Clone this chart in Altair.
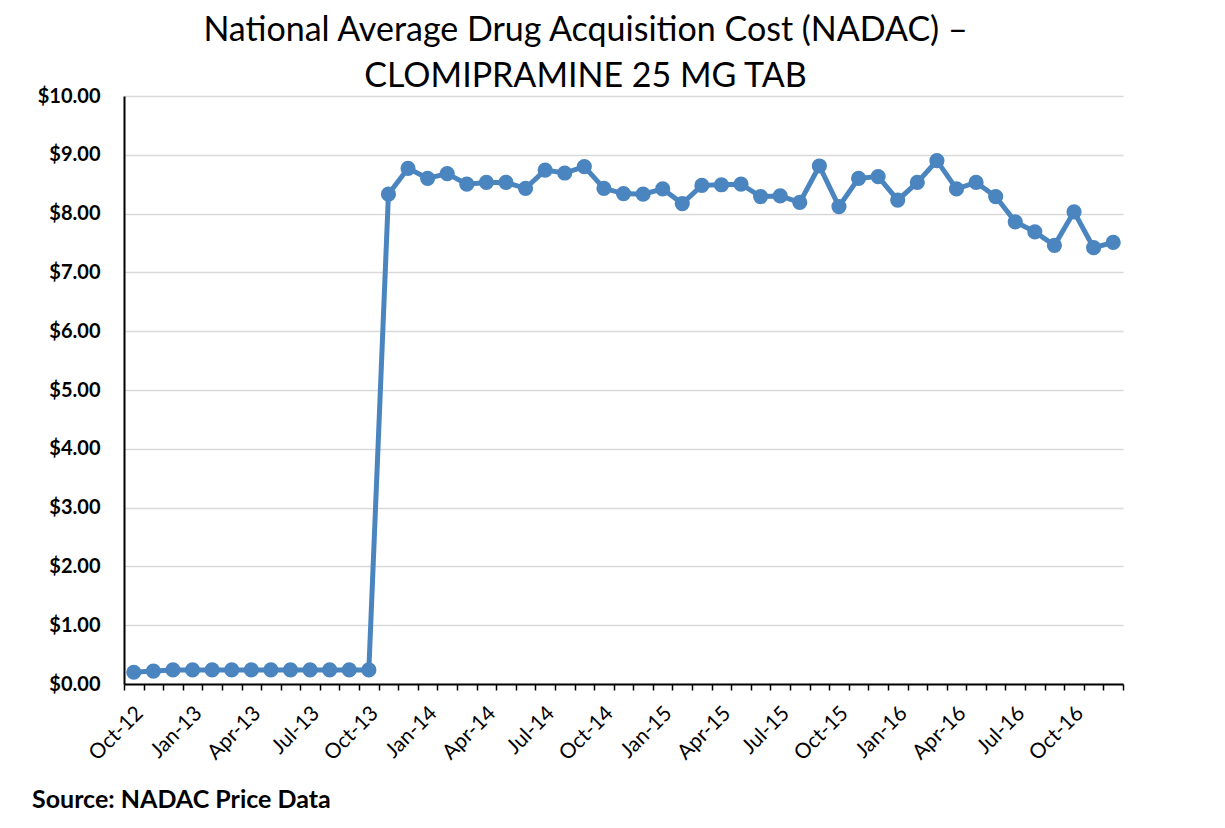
import altair as alt
import pandas as pd

# Categories: monthly periods Oct-12 .. Dec-16
months = ["Oct-12", "Nov-12", "Dec-12",
          "Jan-13", "Feb-13", "Mar-13", "Apr-13", "May-13", "Jun-13",
          "Jul-13", "Aug-13", "Sep-13", "Oct-13", "Nov-13", "Dec-13",
          "Jan-14", "Feb-14", "Mar-14", "Apr-14", "May-14", "Jun-14",
          "Jul-14", "Aug-14", "Sep-14", "Oct-14", "Nov-14", "Dec-14",
          "Jan-15", "Feb-15", "Mar-15", "Apr-15", "May-15", "Jun-15",
          "Jul-15", "Aug-15", "Sep-15", "Oct-15", "Nov-15", "Dec-15",
          "Jan-16", "Feb-16", "Mar-16", "Apr-16", "May-16", "Jun-16",
          "Jul-16", "Aug-16", "Sep-16", "Oct-16", "Nov-16", "Dec-16"]

# NADAC price per unit ($)
prices = [0.20, 0.22, 0.24, 0.24, 0.24, 0.24, 0.24, 0.24, 0.24, 0.24, 0.24, 0.24, 0.24,
          8.33, 8.77, 8.60, 8.68, 8.50, 8.53, 8.53, 8.43, 8.74, 8.69,
          8.80, 8.43, 8.34, 8.33, 8.42, 8.17, 8.48, 8.49, 8.50, 8.29,
          8.30, 8.19, 8.81, 8.12, 8.60, 8.63, 8.23, 8.53, 8.90, 8.42,
          8.53, 8.29, 7.86, 7.69, 7.46, 8.03, 7.42, 7.51]

y_ticks = [0, 1, 2, 3, 4, 5, 6, 7, 8, 9, 10]
title_lines = ["National Average Drug Acquisition Cost (NADAC) \u2013", "CLOMIPRAMINE 25 MG TAB"]
source_note = "Source: NADAC Price Data"

df = pd.DataFrame({"idx": list(range(len(months))), "month": months, "price": prices})

W, H = 999, 588
n = len(months)
band = W / n
tick_vals = [i - 0.5 for i in range(n + 1)]
label_arr = "[" + ",".join("'" + m + "'" for m in months) + "]"
k = "round(datum.value + 0.5)"
label_expr = f"({k} % 3 == 0 && {k} < {n}) ? {label_arr}[{k}] : ''"

FONT = "Lato"
COLOR = "#4a85bf"

x = alt.X("idx:Q",
          scale=alt.Scale(domain=[-0.5, n - 0.5], nice=False, zero=False),
          axis=alt.Axis(values=tick_vals, labelExpr=label_expr, labelAngle=-45,
                        labelOffset=band / 2 - 2, labelOverlap=False, labelFlush=False,
                        labelAlign="right", labelBaseline="top",
                        labelPadding=12, tickSize=6, tickColor="black", tickWidth=1.5,
                        domainColor="black", domainWidth=2, grid=False, title=None,
                        labelFont=FONT, labelFontSize=21, labelColor="black"))
y = alt.Y("price:Q",
          scale=alt.Scale(domain=[0, 10], nice=False),
          axis=alt.Axis(values=y_ticks, format="$.2f", tickSize=0, labelPadding=24,
                        domainColor="black", domainWidth=2, gridColor="#d9d9d9",
                        gridWidth=1.5, title=None, labelFont=FONT, labelFontSize=20,
                        labelFontWeight="bold", labelColor="black"))

line = alt.Chart(df).mark_line(color=COLOR, strokeWidth=5).encode(x=x, y=y)
pts = alt.Chart(df).mark_point(color=COLOR, filled=True, opacity=1, size=230).encode(x=x, y=y)

src = alt.Chart(pd.DataFrame({"t": [source_note]})).mark_text(
    font=FONT, fontSize=25, fontWeight="bold", align="left", baseline="middle", color="black"
).encode(x=alt.value(-92), y=alt.value(704), text="t:N")

chart = (line + pts + src).properties(
    width=W, height=H,
    background="white",
    autosize=alt.AutoSizeParams(type="none"),
    padding={"left": 116, "top": 88, "right": 60, "bottom": 140},
    title=alt.TitleParams(text=title_lines, anchor="middle", dx=-38, fontSize=34,
                          font=FONT, fontWeight="normal", lineHeight=46, offset=-8,
                          color="black"),
).configure_view(stroke=None)

chart.save("out.html", embed_options={"renderer": "svg", "actions": False})
